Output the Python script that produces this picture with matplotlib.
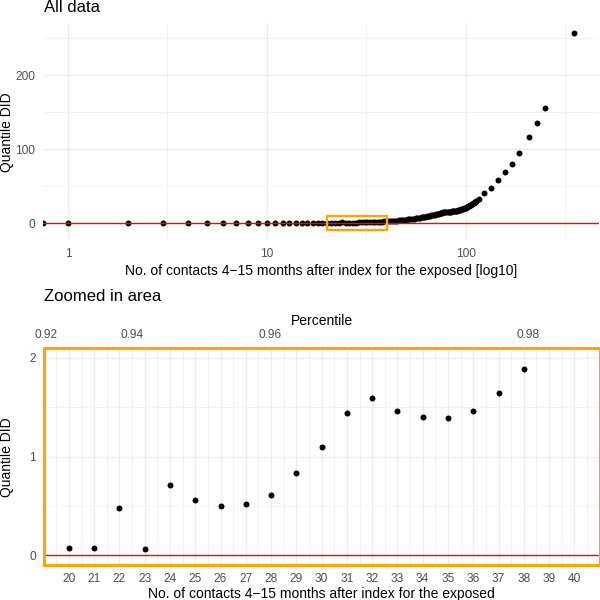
import numpy as np
import matplotlib.pyplot as plt
from matplotlib.patches import Rectangle
from matplotlib.ticker import FixedLocator, NullFormatter

plt.rcParams['font.family'] = ['Liberation Sans', 'DejaVu Sans']

# --- data ---
# number of contacts (0 ends up at the left panel edge, like ggplot's -Inf on a log scale)
contacts = [
    0, 1, 2, 3, 4, 5, 6, 7, 8, 9, 10, 11, 12, 13, 14, 15, 16, 17, 18, 19,
    20, 21, 22, 23, 24, 25, 26, 27, 28, 29, 30, 31, 32, 33, 34, 35, 36, 37, 38, 39, 40,
    41, 42, 43, 44, 45, 46, 47, 48, 49, 50, 51, 52, 53, 54, 55, 56, 57, 58, 59, 60,
    61, 62, 63, 64, 65, 66, 67, 68, 69, 70, 71, 72, 73, 74, 75, 76, 77, 78, 79, 80,
    81, 82, 83, 84, 85, 86, 87, 88, 89, 90, 91, 92, 93, 94, 95, 96, 97, 98, 99, 100,
    101, 102, 103, 104, 105, 106, 107, 108, 109, 110, 111, 112, 113,
    117, 124, 134, 145, 158, 170, 185, 207, 228, 249, 348,
]
quantile_did = [
    0, 0, 0, 0, 0, 0, 0, 0, 0.01, 0.01, 0.02, 0.02, 0.03, 0.03, 0.04, 0.04, 0.05, 0.05, 0.06, 0.06,
    0.07, 0.07, 0.48, 0.06, 0.71, 0.56, 0.50, 0.52, 0.61, 0.83, 1.10, 1.44, 1.59, 1.46, 1.40, 1.39,
    1.46, 1.64, 1.89, 2.2, 2.4,
    2.6, 2.8, 3.0, 3.2, 3.4, 3.6, 3.9, 4.1, 4.3, 4.6, 4.9, 5.1, 5.4, 5.8, 6.1, 6.4, 6.7, 7.0, 7.3, 7.7,
    8.0, 8.4, 8.7, 9.1, 9.5, 9.9, 10.3, 10.7, 11.0, 11.4, 11.8, 12.2, 12.6, 13.1, 13.7, 14.2, 14.5, 14.7, 14.8, 14.9,
    15.0, 15.2, 15.4, 15.5, 15.7, 15.9, 16.1, 16.3, 16.5, 16.8, 17.1, 17.4, 17.7, 18.1, 18.5, 18.9, 19.3, 19.8, 20.2, 20.7,
    21.3, 21.9, 22.5, 23.1, 23.8, 24.5, 25.2, 26.0, 26.8, 27.6, 28.4, 29.2, 30.0,
    32.5, 40, 47.7, 57.7, 69, 80, 94, 116, 135.5, 156, 257,
]

# zoom window (contacts 20-40, DID -10..10 drawn in the overview)
zoom_x = [20, 40]
zoom_y = [-10, 10]
zoom_ylim = [0, 2]

# percentile axis of the zoomed panel
pct_labels = ['0.92', '0.94', '0.96', '0.98']
pct_at_contacts = [19.1, 22.5, 27.95, 38.15]

x = np.array(contacts, dtype=float)
y = np.array(quantile_did, dtype=float)

GRID = '#EBEBEB'
TICK = '#4D4D4D'
ORANGE = '#FFA500'
TICK_SIZE = 8.6


def style(ax):
    for s in ax.spines.values():
        s.set_visible(False)
    ax.tick_params(which='both', length=0, labelsize=TICK_SIZE, labelcolor=TICK, pad=5.5)
    ax.grid(which='major', color=GRID, lw=0.9)
    ax.grid(which='minor', color=GRID, lw=0.5)
    ax.set_axisbelow(True)


fig = plt.figure(figsize=(6, 6), dpi=100)

# --- top: all data on log10 x ---
ax1 = fig.add_axes([0.071, 0.5995, 0.927, 0.3622])
style(ax1)
ax1.set_xscale('log')
lo, hi = np.log10(x[x > 0].min()), np.log10(x.max())
pad = 0.05 * (hi - lo)
ax1.set_xlim(10 ** (lo - pad), 10 ** (hi + pad))
ylo, yhi = min(y.min(), zoom_y[0]), max(y.max(), zoom_y[1])
ypad = 0.05 * (yhi - ylo)
ax1.set_ylim(ylo - ypad, yhi + ypad)

xplot = np.where(x > 0, x, ax1.get_xlim()[0])
ax1.plot(xplot, y, 'o', color='black', ms=4.3, mec='none')
ax1.axhline(0, color='red', lw=1.0)
ax1.add_patch(Rectangle((zoom_x[0], zoom_y[0]), zoom_x[1] - zoom_x[0], zoom_y[1] - zoom_y[0],
                        fill=False, edgecolor=ORANGE, lw=1.7, zorder=5))

ax1.xaxis.set_major_locator(FixedLocator([1, 10, 100]))
ax1.xaxis.set_minor_locator(FixedLocator([10 ** 0.5, 10 ** 1.5, 10 ** 2.5]))
ax1.xaxis.set_major_formatter(plt.FixedFormatter(['1', '10', '100']))
ax1.xaxis.set_minor_formatter(NullFormatter())
ax1.yaxis.set_major_locator(FixedLocator([0, 100, 200]))
ax1.yaxis.set_minor_locator(FixedLocator([50, 150, 250]))
ax1.set_xlabel('No. of contacts 4\u221215 months after index for the exposed [log10]', fontsize=10, labelpad=3)

# --- bottom: zoomed in area ---
ax2 = fig.add_axes([0.0728, 0.058, 0.9265, 0.3623])
style(ax2)
ax2.set_xlim(zoom_x[0] - 1, zoom_x[1] + 1)
ax2.set_ylim(zoom_ylim[0] - 0.1, zoom_ylim[1] + 0.1)
inside = (x >= zoom_x[0]) & (x <= zoom_x[1])
ax2.plot(x[inside], y[inside], 'o', color='black', ms=4.3, mec='none')
ax2.axhline(0, color='red', lw=1.0)
ax2.xaxis.set_major_locator(FixedLocator(np.arange(zoom_x[0], zoom_x[1] + 1)))
ax2.xaxis.set_minor_locator(FixedLocator(np.arange(zoom_x[0] - 0.5, zoom_x[1] + 1)))
ax2.yaxis.set_major_locator(FixedLocator([0, 1, 2]))
ax2.yaxis.set_minor_locator(FixedLocator([0.5, 1.5]))
ax2.set_xlabel('No. of contacts 4\u221215 months after index for the exposed', fontsize=10, labelpad=1.2)
for s in ax2.spines.values():
    s.set_visible(True)
    s.set_color(ORANGE)
    s.set_linewidth(2.2)

top = ax2.twiny()
top.set_xlim(ax2.get_xlim())
for s in top.spines.values():
    s.set_visible(False)
top.set_xticks(pct_at_contacts)
top.set_xticklabels(pct_labels)
top.tick_params(length=0, labelsize=TICK_SIZE, labelcolor=TICK, pad=5)
top.set_xlabel('Percentile', fontsize=10, labelpad=3)

# titles and y labels
fig.text(0.073, 0.987, 'All data', fontsize=12, va='center', ha='left')
fig.text(0.073, 1 - 296.5 / 600, 'Zoomed in area', fontsize=12, va='center', ha='left')
fig.text(0.011, 1 - 132 / 600, 'Quantile DID', fontsize=10, rotation=90, va='center', ha='center')
fig.text(0.011, 1 - 457 / 600, 'Quantile DID', fontsize=10, rotation=90, va='center', ha='center')

fig.savefig('out.png', dpi=100)
